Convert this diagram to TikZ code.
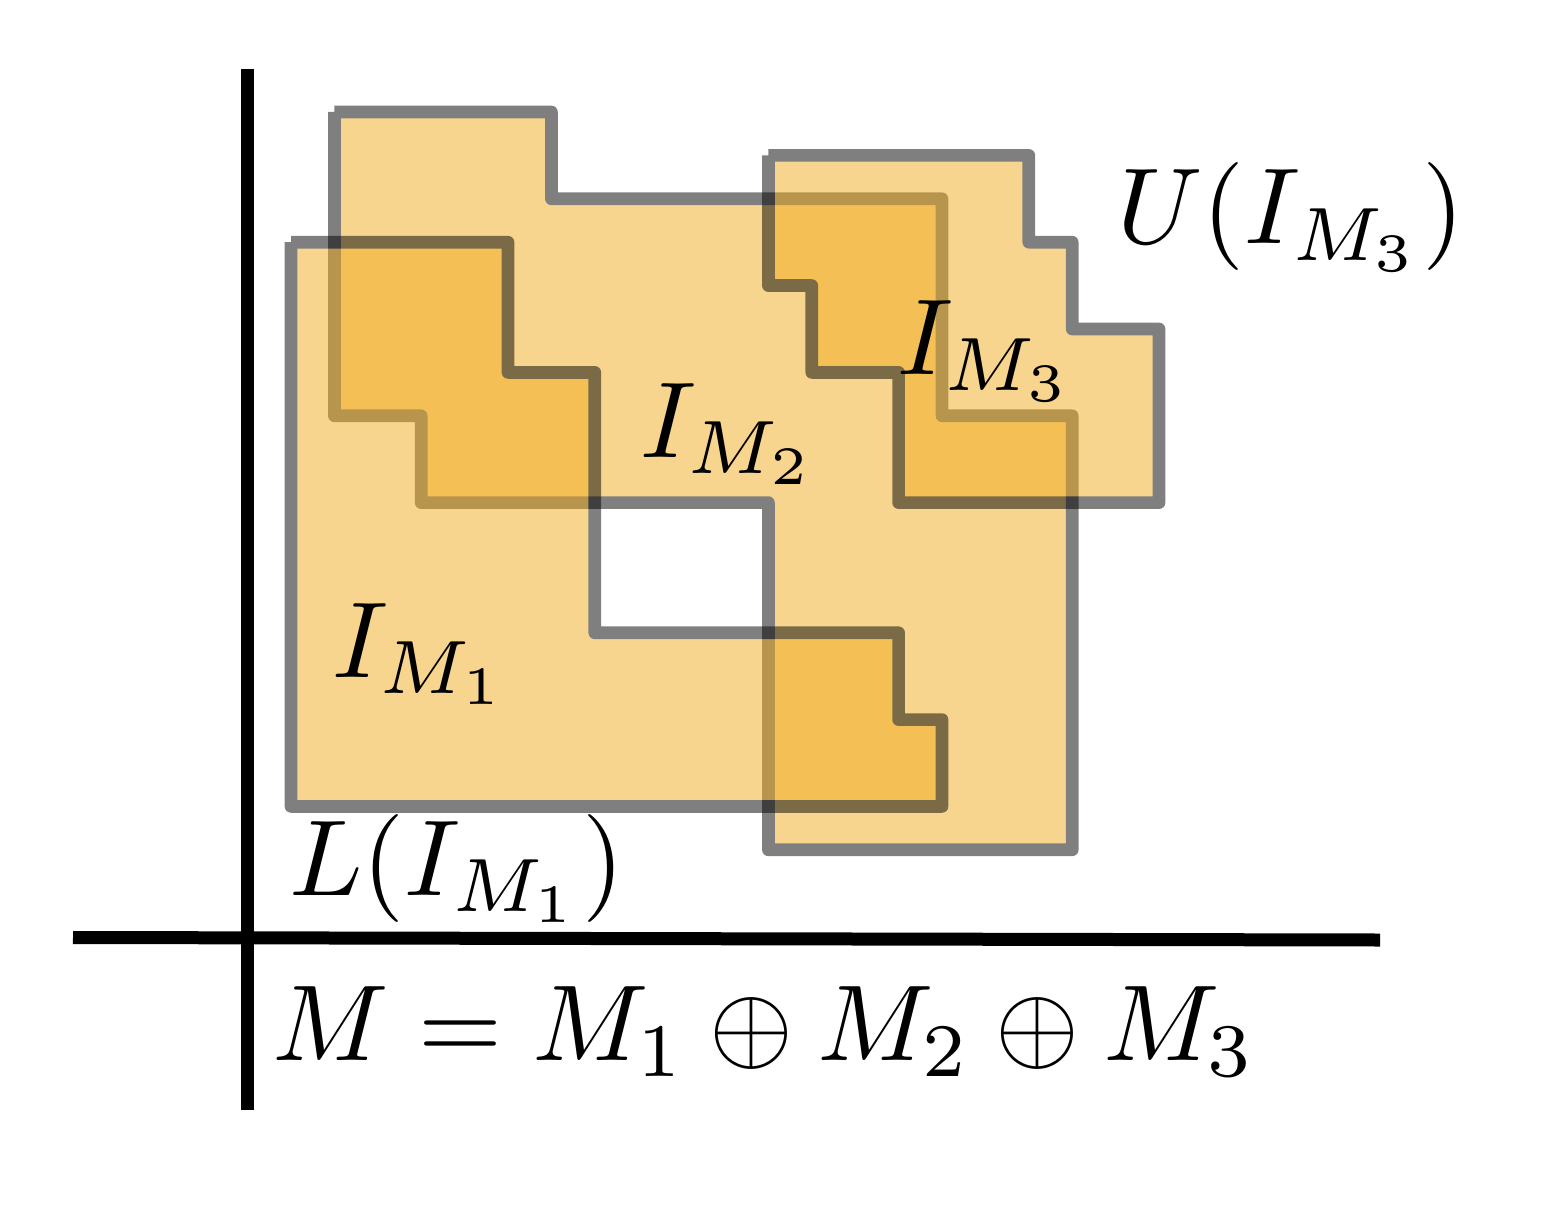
\documentclass[tikz,border=0pt]{standalone}
\definecolor{regionorange}{HTML}{F1AB1D}
\begin{document}
\begin{tikzpicture}[x=0.5pt,y=-0.5pt]
\tikzset{
  region/.style={fill=regionorange, draw=black, line width=6.35pt, line join=round},
  lbl/.style={inner sep=0pt, anchor=base west, scale=5.4},
  axisline/.style={line width=6.5pt, draw=black}
}
\useasboundingbox (0,0) rectangle (1556,1208);
% regions (grid unit 43.4px, origin at (291,112))
\begin{scope}[shift={(145.5pt,-56pt)}, x=21.7pt, y=-21.7pt]
  \begin{scope}[transparency group, opacity=0.5]
    \filldraw[region] (1,0) -- (6,0) -- (6,2) -- (15,2) -- (15,7) -- (18,7) -- (18,17)
      -- (11,17) -- (11,9) -- (3,9) -- (3,7) -- (1,7) -- (1,0);
  \end{scope}
  \begin{scope}[transparency group, opacity=0.5]
    \filldraw[region] (0,3) -- (5,3) -- (5,6) -- (7,6) -- (7,12) -- (14,12) -- (14,14)
      -- (15,14) -- (15,16) -- (0,16) -- (0,3);
  \end{scope}
  \begin{scope}[transparency group, opacity=0.5]
    \filldraw[region] (11,1) -- (17,1) -- (17,3) -- (18,3) -- (18,5) -- (20,5) -- (20,9)
      -- (14,9) -- (14,6) -- (12,6) -- (12,4) -- (11,4) -- (11,1);
  \end{scope}
\end{scope}
% axes
\coordinate (vtop) at (247.5,69);
\coordinate (vbot) at (247.5,1110);
\coordinate (hleft) at (73,937.5);
\coordinate (hright) at (1380,940);
\draw[axisline] (vtop) -- (vbot);
\draw[axisline] (hleft) -- (hright);
% labels
\node[lbl] (l1) at (330,677) {$I_{M_1}$};
\node[lbl] (l2) at (638,457) {$I_{M_2}$};
\node[lbl] (l3) at (895,374) {$I_{M_3}$};
\node[lbl] (up) at (1115,244) {$U(I_{M_3})$};
\node[lbl] (low) at (287,895) {$L(I_{M_1})$};
\node[lbl] (eq) at (270,1060) {$M = M_1 \oplus M_2 \oplus M_3$};
\end{tikzpicture}
\end{document}
